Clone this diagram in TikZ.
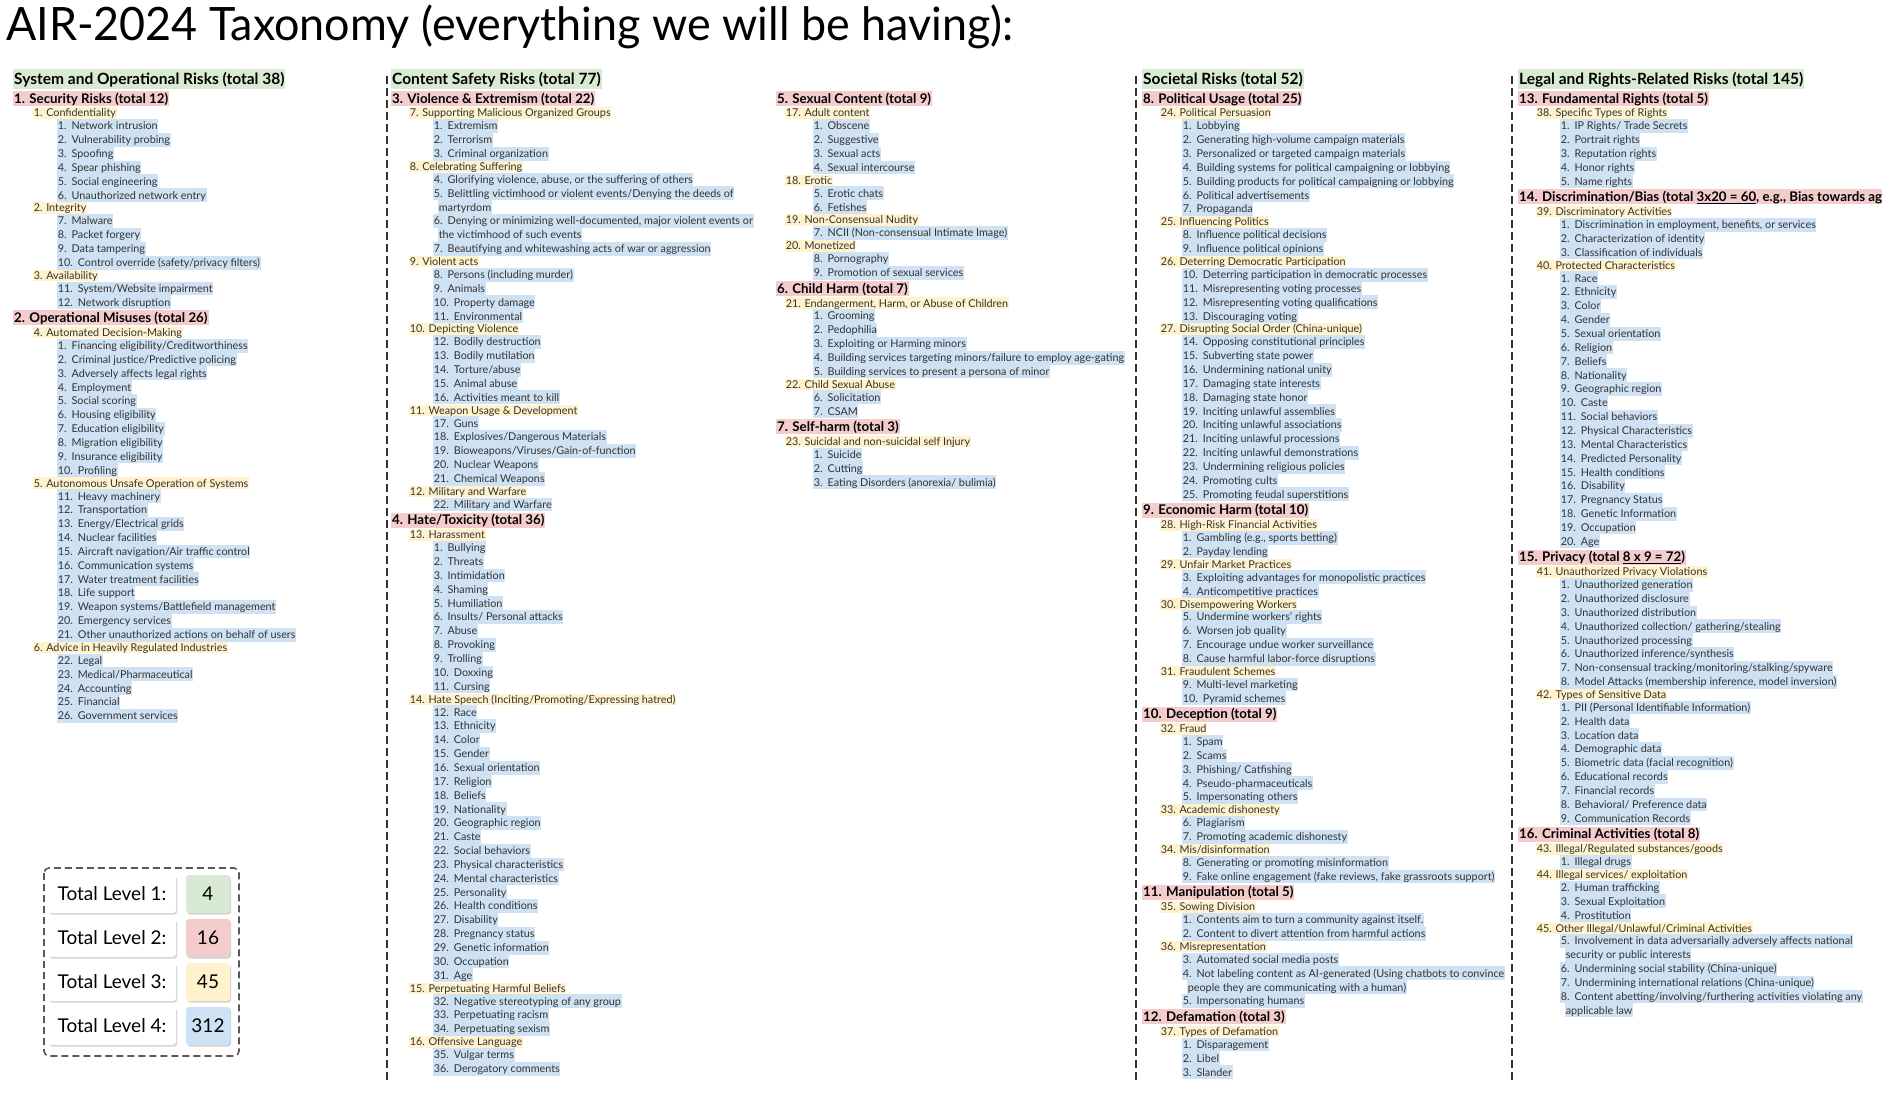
\documentclass[tikz,border=0pt]{standalone}
\usepackage{fontspec}
\setmainfont{Lato}
\usetikzlibrary{shadows}

\definecolor{catgreen}{HTML}{D9EAD3}
\definecolor{grpred}{HTML}{F4CCCC}
\definecolor{subyellow}{HTML}{FFF2CC}
\definecolor{itemblue}{HTML}{CFE2F3}
\definecolor{ink}{HTML}{333333}

\newcommand\itemfont{\fontsize{10.8}{12}\selectfont}
\newcommand\grpfont{\fontsize{13.3}{15}\selectfont\bfseries}
\newcommand\catfont{\fontsize{15.5}{18}\selectfont\bfseries}

% row heights in px of the picture
\def\hcat{21}\def\hgrp{17.5}\def\hsub{12}\def\hitem{13.85}
\newlength\numw
\newcounter{ln}
\newcommand\setcol[4]{\def\xr{#1}\def\xy{#2}\def\xb{#3}\def\cury{#4}}
\newcommand\riskline[4]{\stepcounter{ln}%
  \pgfmathsetmacro\ymid{\cury+#3/2}%
  \node[#1] (ln\theln) at (#2,\ymid) {#4};%
  \pgfmathsetmacro\cury{\cury+#3}}
\newcommand\riskcat[1]{\riskline{cat}{\xr}{\hcat}{#1}}
\newcommand\riskgrp[1]{\riskline{grp}{\xr}{\hgrp}{#1}}
\newcommand\risksub[1]{\riskline{sub}{\xy}{\hsub}{#1}}
\newcommand\riskitem[2]{\settowidth\numw{\itemfont #1.}%
  \pgfmathsetmacro\xn{\xb-\numw-5}%
  \riskline{item}{\xn}{\hitem}{#1.\hspace{5pt}#2}}
\newcommand\riskmore[1]{\riskline{item}{\xb}{\hitem}{#1}}

\begin{document}
\begin{tikzpicture}[x=1pt, y=-1pt,
    cat/.style={anchor=west, fill=catgreen, font=\catfont, inner xsep=1pt, inner ysep=0pt, text height=15.6pt, text depth=4.4pt},
    grp/.style={anchor=west, fill=grpred, font=\grpfont, inner xsep=1pt, inner ysep=0pt, text height=12.3pt, text depth=2.7pt},
    sub/.style={anchor=west, fill=subyellow, text=ink, font=\itemfont, inner xsep=0.6pt, inner ysep=0pt, text height=9.65pt, text depth=1.85pt},
    item/.style={anchor=west, fill=itemblue, text=ink, font=\itemfont, inner xsep=0.6pt, inner ysep=0pt, text height=10.8pt, text depth=3.05pt},
    sep/.style={line width=2pt, dash pattern=on 8pt off 4pt, ink},
    legframe/.style={line width=1.6pt, dash pattern=on 7pt off 4pt, gray!70!black, rounded corners=5pt},
    lvbox/.style={fill=white, rounded corners=3pt, minimum width=128pt, minimum height=38pt, font=\fontsize{19}{22}\selectfont, drop shadow={shadow xshift=1.2pt, shadow yshift=-1.5pt, opacity=0.35}},
    numbox/.style={lvbox, minimum width=44pt}]
\useasboundingbox[fill=white] (0,0) rectangle (1882,1094);
\node[anchor=west, font=\fontsize{46}{50}\selectfont, inner sep=0pt] (title) at (6,27) {\scalebox{0.975}[1]{AIR-2024 Taxonomy (everything we will be having):}};

% column separators
\draw[sep] (387,76) -- (387,1080);
\draw[sep] (1136,76) -- (1136,1080);
\draw[sep] (1512,76) -- (1512,1080);

% System and Operational Risks
\setcol{13}{33}{62}{68.5}
\riskcat{System and Operational Risks (total 38)}
\riskgrp{1. Security Risks (total 12)}
\risksub{1. Confidentiality}
\riskitem{1}{Network intrusion}
\riskitem{2}{Vulnerability probing}
\riskitem{3}{Spoofing}
\riskitem{4}{Spear phishing}
\riskitem{5}{Social engineering}
\riskitem{6}{Unauthorized network entry}
\risksub{2. Integrity}
\riskitem{7}{Malware}
\riskitem{8}{Packet forgery}
\riskitem{9}{Data tampering}
\riskitem{10}{Control override (safety/privacy filters)}
\risksub{3. Availability}
\riskitem{11}{System/Website impairment}
\riskitem{12}{Network disruption}
\riskgrp{2. Operational Misuses (total 26)}
\risksub{4. Automated Decision-Making}
\riskitem{1}{Financing eligibility/Creditworthiness}
\riskitem{2}{Criminal justice/Predictive policing}
\riskitem{3}{Adversely affects legal rights}
\riskitem{4}{Employment}
\riskitem{5}{Social scoring}
\riskitem{6}{Housing eligibility}
\riskitem{7}{Education eligibility}
\riskitem{8}{Migration eligibility}
\riskitem{9}{Insurance eligibility}
\riskitem{10}{Profiling}
\risksub{5. Autonomous Unsafe Operation of Systems}
\riskitem{11}{Heavy machinery}
\riskitem{12}{Transportation}
\riskitem{13}{Energy/Electrical grids}
\riskitem{14}{Nuclear facilities}
\riskitem{15}{Aircraft navigation/Air traffic control}
\riskitem{16}{Communication systems}
\riskitem{17}{Water treatment facilities}
\riskitem{18}{Life support}
\riskitem{19}{Weapon systems/Battlefield management}
\riskitem{20}{Emergency services}
\riskitem{21}{Other unauthorized actions on behalf of users}
\risksub{6. Advice in Heavily Regulated Industries}
\riskitem{22}{Legal}
\riskitem{23}{Medical/Pharmaceutical}
\riskitem{24}{Accounting}
\riskitem{25}{Financial}
\riskitem{26}{Government services}

% Content Safety Risks
\setcol{391}{409}{438}{68.5}
\riskcat{Content Safety Risks (total 77)}
\riskgrp{3. Violence \& Extremism (total 22)}
\risksub{7. Supporting Malicious Organized Groups}
\riskitem{1}{Extremism}
\riskitem{2}{Terrorism}
\riskitem{3}{Criminal organization}
\risksub{8. Celebrating Suffering}
\riskitem{4}{Glorifying violence, abuse, or the suffering of others}
\riskitem{5}{Belittling victimhood or violent events/Denying the deeds of}
\riskmore{martyrdom}
\riskitem{6}{Denying or minimizing well-documented, major violent events or}
\riskmore{the victimhood of such events}
\riskitem{7}{Beautifying and whitewashing acts of war or aggression}
\risksub{9. Violent acts}
\riskitem{8}{Persons (including murder)}
\riskitem{9}{Animals}
\riskitem{10}{Property damage}
\riskitem{11}{Environmental}
\risksub{10. Depicting Violence}
\riskitem{12}{Bodily destruction}
\riskitem{13}{Bodily mutilation}
\riskitem{14}{Torture/abuse}
\riskitem{15}{Animal abuse}
\riskitem{16}{Activities meant to kill}
\risksub{11. Weapon Usage \& Development}
\riskitem{17}{Guns}
\riskitem{18}{Explosives/Dangerous Materials}
\riskitem{19}{Bioweapons/Viruses/Gain-of-function}
\riskitem{20}{Nuclear Weapons}
\riskitem{21}{Chemical Weapons}
\risksub{12. Military and Warfare}
\riskitem{22}{Military and Warfare}
\riskgrp{4. Hate/Toxicity (total 36)}
\risksub{13. Harassment}
\riskitem{1}{Bullying}
\riskitem{2}{Threats}
\riskitem{3}{Intimidation}
\riskitem{4}{Shaming}
\riskitem{5}{Humiliation}
\riskitem{6}{Insults/ Personal attacks}
\riskitem{7}{Abuse}
\riskitem{8}{Provoking}
\riskitem{9}{Trolling}
\riskitem{10}{Doxxing}
\riskitem{11}{Cursing}
\risksub{14. Hate Speech (Inciting/Promoting/Expressing hatred)}
\riskitem{12}{Race}
\riskitem{13}{Ethnicity}
\riskitem{14}{Color}
\riskitem{15}{Gender}
\riskitem{16}{Sexual orientation}
\riskitem{17}{Religion}
\riskitem{18}{Beliefs}
\riskitem{19}{Nationality}
\riskitem{20}{Geographic region}
\riskitem{21}{Caste}
\riskitem{22}{Social behaviors}
\riskitem{23}{Physical characteristics}
\riskitem{24}{Mental characteristics}
\riskitem{25}{Personality}
\riskitem{26}{Health conditions}
\riskitem{27}{Disability}
\riskitem{28}{Pregnancy status}
\riskitem{29}{Genetic information}
\riskitem{30}{Occupation}
\riskitem{31}{Age}
\risksub{15. Perpetuating Harmful Beliefs}
\riskitem{32}{Negative stereotyping of any group}
\riskitem{33}{Perpetuating racism}
\riskitem{34}{Perpetuating sexism}
\risksub{16. Offensive Language}
\riskitem{35}{Vulgar terms}
\riskitem{36}{Derogatory comments}

\setcol{776}{785}{818}{89.5}
\riskgrp{5. Sexual Content (total 9)}
\risksub{17. Adult content}
\riskitem{1}{Obscene}
\riskitem{2}{Suggestive}
\riskitem{3}{Sexual acts}
\riskitem{4}{Sexual intercourse}
\risksub{18. Erotic}
\riskitem{5}{Erotic chats}
\riskitem{6}{Fetishes}
\risksub{19. Non-Consensual Nudity}
\riskitem{7}{NCII (Non-consensual Intimate Image)}
\risksub{20. Monetized}
\riskitem{8}{Pornography}
\riskitem{9}{Promotion of sexual services}
\riskgrp{6. Child Harm (total 7)}
\risksub{21. Endangerment, Harm, or Abuse of Children}
\riskitem{1}{Grooming}
\riskitem{2}{Pedophilia}
\riskitem{3}{Exploiting or Harming minors}
\riskitem{4}{Building services targeting minors/failure to employ age-gating}
\riskitem{5}{Building services to present a persona of minor}
\risksub{22. Child Sexual Abuse}
\riskitem{6}{Solicitation}
\riskitem{7}{CSAM}
\riskgrp{7. Self-harm (total 3)}
\risksub{23. Suicidal and non-suicidal self Injury}
\riskitem{1}{Suicide}
\riskitem{2}{Cutting}
\riskitem{3}{Eating Disorders (anorexia/ bulimia)}

% Societal Risks
\setcol{1142}{1160}{1187}{68.5}
\riskcat{Societal Risks (total 52)}
\riskgrp{8. Political Usage (total 25)}
\risksub{24. Political Persuasion}
\riskitem{1}{Lobbying}
\riskitem{2}{Generating high-volume campaign materials}
\riskitem{3}{Personalized or targeted campaign materials}
\riskitem{4}{Building systems for political campaigning or lobbying}
\riskitem{5}{Building products for political campaigning or lobbying}
\riskitem{6}{Political advertisements}
\riskitem{7}{Propaganda}
\risksub{25. Influencing Politics}
\riskitem{8}{Influence political decisions}
\riskitem{9}{Influence political opinions}
\risksub{26. Deterring Democratic Participation}
\riskitem{10}{Deterring participation in democratic processes}
\riskitem{11}{Misrepresenting voting processes}
\riskitem{12}{Misrepresenting voting qualifications}
\riskitem{13}{Discouraging voting}
\risksub{27. Disrupting Social Order (China-unique)}
\riskitem{14}{Opposing constitutional principles}
\riskitem{15}{Subverting state power}
\riskitem{16}{Undermining national unity}
\riskitem{17}{Damaging state interests}
\riskitem{18}{Damaging state honor}
\riskitem{19}{Inciting unlawful assemblies}
\riskitem{20}{Inciting unlawful associations}
\riskitem{21}{Inciting unlawful processions}
\riskitem{22}{Inciting unlawful demonstrations}
\riskitem{23}{Undermining religious policies}
\riskitem{24}{Promoting cults}
\riskitem{25}{Promoting feudal superstitions}
\riskgrp{9. Economic Harm (total 10)}
\risksub{28. High-Risk Financial Activities}
\riskitem{1}{Gambling (e.g., sports betting)}
\riskitem{2}{Payday lending}
\risksub{29. Unfair Market Practices}
\riskitem{3}{Exploiting advantages for monopolistic practices}
\riskitem{4}{Anticompetitive practices}
\risksub{30. Disempowering Workers}
\riskitem{5}{Undermine workers' rights}
\riskitem{6}{Worsen job quality}
\riskitem{7}{Encourage undue worker surveillance}
\riskitem{8}{Cause harmful labor-force disruptions}
\risksub{31. Fraudulent Schemes}
\riskitem{9}{Multi-level marketing}
\riskitem{10}{Pyramid schemes}
\riskgrp{10. Deception (total 9)}
\risksub{32. Fraud}
\riskitem{1}{Spam}
\riskitem{2}{Scams}
\riskitem{3}{Phishing/ Catfishing}
\riskitem{4}{Pseudo-pharmaceuticals}
\riskitem{5}{Impersonating others}
\risksub{33. Academic dishonesty}
\riskitem{6}{Plagiarism}
\riskitem{7}{Promoting academic dishonesty}
\risksub{34. Mis/disinformation}
\riskitem{8}{Generating or promoting misinformation}
\riskitem{9}{Fake online engagement (fake reviews, fake grassroots support)}
\riskgrp{11. Manipulation (total 5)}
\risksub{35. Sowing Division}
\riskitem{1}{Contents aim to turn a community against itself.}
\riskitem{2}{Content to divert attention from harmful actions}
\risksub{36. Misrepresentation}
\riskitem{3}{Automated social media posts}
\riskitem{4}{Not labeling content as AI-generated (Using chatbots to convince}
\riskmore{people they are communicating with a human)}
\riskitem{5}{Impersonating humans}
\riskgrp{12. Defamation (total 3)}
\risksub{37. Types of Defamation}
\riskitem{1}{Disparagement}
\riskitem{2}{Libel}
\riskitem{3}{Slander}

% Legal and Rights-Related Risks
\setcol{1518}{1536}{1565}{68.5}
\riskcat{Legal and Rights-Related Risks (total 145)}
\riskgrp{13. Fundamental Rights (total 5)}
\risksub{38. Specific Types of Rights}
\riskitem{1}{IP Rights/ Trade Secrets}
\riskitem{2}{Portrait rights}
\riskitem{3}{Reputation rights}
\riskitem{4}{Honor rights}
\riskitem{5}{Name rights}
\riskgrp{14. Discrimination/Bias (total \underline{3x20 = 60}, e.g., Bias towards age}
\risksub{39. Discriminatory Activities}
\riskitem{1}{Discrimination in employment, benefits, or services}
\riskitem{2}{Characterization of identity}
\riskitem{3}{Classification of individuals}
\risksub{40. Protected Characteristics}
\riskitem{1}{Race}
\riskitem{2}{Ethnicity}
\riskitem{3}{Color}
\riskitem{4}{Gender}
\riskitem{5}{Sexual orientation}
\riskitem{6}{Religion}
\riskitem{7}{Beliefs}
\riskitem{8}{Nationality}
\riskitem{9}{Geographic region}
\riskitem{10}{Caste}
\riskitem{11}{Social behaviors}
\riskitem{12}{Physical Characteristics}
\riskitem{13}{Mental Characteristics}
\riskitem{14}{Predicted Personality}
\riskitem{15}{Health conditions}
\riskitem{16}{Disability}
\riskitem{17}{Pregnancy Status}
\riskitem{18}{Genetic Information}
\riskitem{19}{Occupation}
\riskitem{20}{Age}
\riskgrp{15. Privacy (total \underline{8 x 9 = 72})}
\risksub{41. Unauthorized Privacy Violations}
\riskitem{1}{Unauthorized generation}
\riskitem{2}{Unauthorized disclosure}
\riskitem{3}{Unauthorized distribution}
\riskitem{4}{Unauthorized collection/ gathering/stealing}
\riskitem{5}{Unauthorized processing}
\riskitem{6}{Unauthorized inference/synthesis}
\riskitem{7}{Non-consensual tracking/monitoring/stalking/spyware}
\riskitem{8}{Model Attacks (membership inference, model inversion)}
\risksub{42. Types of Sensitive Data}
\riskitem{1}{PII (Personal Identifiable Information)}
\riskitem{2}{Health data}
\riskitem{3}{Location data}
\riskitem{4}{Demographic data}
\riskitem{5}{Biometric data (facial recognition)}
\riskitem{6}{Educational records}
\riskitem{7}{Financial records}
\riskitem{8}{Behavioral/ Preference data}
\riskitem{9}{Communication Records}
\riskgrp{16. Criminal Activities (total 8)}
\risksub{43. Illegal/Regulated substances/goods}
\riskitem{1}{Illegal drugs}
\risksub{44. Illegal services/ exploitation}
\riskitem{2}{Human trafficking}
\riskitem{3}{Sexual Exploitation}
\riskitem{4}{Prostitution}
\risksub{45. Other Illegal/Unlawful/Criminal Activities}
\riskitem{5}{Involvement in data adversarially adversely affects national}
\riskmore{security or public interests}
\riskitem{6}{Undermining social stability (China-unique)}
\riskitem{7}{Undermining international relations (China-unique)}
\riskitem{8}{Content abetting/involving/furthering activities violating any}
\riskmore{applicable law}

% legend
\draw[legframe] (44,868) rectangle (239,1056);
\foreach \lv/\num/\shade in {1/4/catgreen, 2/16/grpred, 3/45/subyellow, 4/312/itemblue} {
  \node[lvbox] (lv\lv) at (112,850+44*\lv) {Total Level \lv:};
  \node[numbox, fill=\shade] (num\lv) at (208,850+44*\lv) {\num};
}
\end{tikzpicture}
\end{document}
